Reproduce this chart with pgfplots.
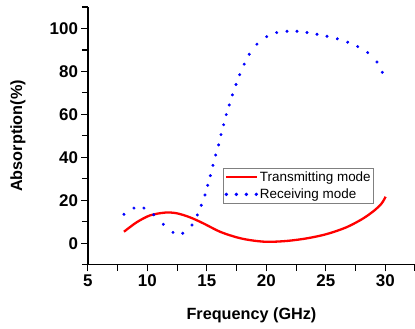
\documentclass[border=0pt]{standalone}
\usepackage{pgfplots}
\pgfplotsset{compat=1.18}
\usepackage{fontspec}
\setmainfont{Liberation Sans}
\begin{document}
\begin{tikzpicture}
\begin{axis}[
  scale only axis, width=327.3bp, height=258bp,
  xmin=5, xmax=32.5, ymin=-10, ymax=110,
  axis x line*=bottom, axis y line*=left,
  axis line style={line width=1.3bp},
  xtick={5,10,...,30}, ytick={0,20,...,100},
  minor xtick={7.5,12.5,...,32.5}, minor ytick={-10,10,...,110},
  tick align=outside, major tick length=6.5bp, minor tick length=6bp,
  every tick/.style={line width=1.1bp, black},
  ticklabel style={font=\fontsize{17}{17}\selectfont\bfseries},
  /pgf/number format/assume math mode=true,
  xlabel={Frequency (GHz)}, ylabel={Absorption(\%)},
  label style={font=\fontsize{16.3}{16}\selectfont\bfseries},
  xlabel style={at={(axis description cs:0.5,-0.194)}, anchor=center},
  ylabel style={at={(axis description cs:-0.214,0.5)}, anchor=center, rotate=0},
  legend style={at={(rel axis cs:0.412,0.375)}, anchor=north west, draw=gray, line width=0.8bp,
    font=\fontsize{13.5}{14}\selectfont, inner sep=1.5bp, row sep=3bp,
    nodes={inner sep=1.5bp}},
  legend cell align=left,
]
\addplot[red, line width=2.3bp, smooth,
  legend image code/.code={\draw[red, line width=2.3bp] (0bp,0) -- (31bp,0);}] coordinates {
(8.03,5.4) (9.1,9.8) (10.22,13.0) (11.48,14.3) (12.46,14.0) (13.58,12.1)
(14.7,9.3) (16.1,5.4) (17.5,2.8) (18.62,1.5) (20.03,0.7) (21.71,1.1)
(23.39,2.3) (25.07,4.3) (26.75,7.5) (28.15,11.6) (29.13,15.5) (29.7,18.6) (30.03,21.7)
};
\addlegendentry{Transmitting mode}
\addplot[blue, only marks, mark=*, mark size=1.3bp, mark options={draw=blue, fill=blue},
  legend image code/.code={\foreach \d in {0,10,20,30} {\fill[blue] (\d bp,0) circle (1.3bp);}}]
coordinates {
(8.03,13.5) (8.87,16.4) (9.71,16.4) (10.53,13.3) (11.34,8.85) (12.15,5.1)
(12.97,4.7) (13.75,8.5) (14.2,13.2) (14.53,17.7) (14.84,22.5) (15.07,27.0)
(15.29,31.5) (15.51,36.3) (15.74,41.1) (15.99,45.8) (16.19,50.6) (16.41,55.2)
(16.63,59.9) (16.88,64.4) (17.15,69.1) (17.45,73.9) (17.76,78.5) (18.14,83.4)
(18.56,88.0) (19.21,92.7) (20.03,96.2) (20.87,98.1) (21.74,98.7) (22.58,98.7)
(23.42,98.1) (24.26,97.3) (25.1,96.4) (25.97,95.2) (26.84,93.6) (27.68,91.6)
(28.52,88.8) (29.3,84.4) (29.75,79.6)
};
\addlegendentry{Receiving mode}
\end{axis}
\pgfresetboundingbox
\useasboundingbox (-88bp,-64bp) rectangle (327.3bp,265bp);
\end{tikzpicture}
\end{document}
